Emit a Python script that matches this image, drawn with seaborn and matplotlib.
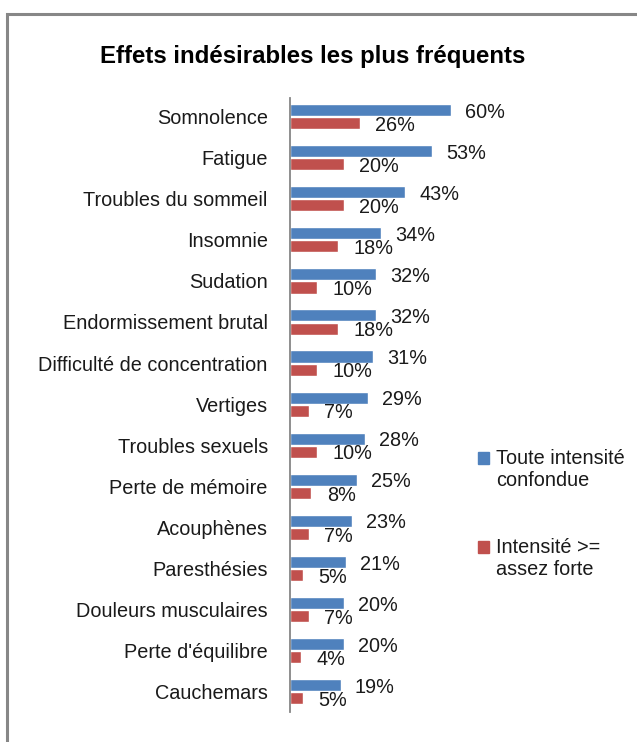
import matplotlib
matplotlib.use("Agg")
import matplotlib.pyplot as plt
import seaborn as sns
import pandas as pd
from matplotlib.patches import Rectangle

categories = ["Somnolence", "Fatigue", "Troubles du sommeil", "Insomnie", "Sudation",
              "Endormissement brutal", "Difficulté de concentration", "Vertiges",
              "Troubles sexuels", "Perte de mémoire", "Acouphènes", "Paresthésies",
              "Douleurs musculaires", "Perte d'équilibre", "Cauchemars"]
toute = [60, 53, 43, 34, 32, 32, 31, 29, 28, 25, 23, 21, 20, 20, 19]
forte = [26, 20, 20, 18, 10, 18, 10, 7, 10, 8, 7, 5, 7, 4, 5]
series = ["Toute intensité\nconfondue", "Intensité >=\nassez forte"]
colors = ["#4F81BD", "#C0504D"]

df = pd.DataFrame({
    "cat": categories * 2,
    "val": toute + forte,
    "serie": [series[0]] * len(categories) + [series[1]] * len(categories),
})

sns.set_style("white")
plt.rcParams["font.family"] = ["Liberation Sans", "DejaVu Sans"]
fs = 14.3

fig = plt.figure(figsize=(6.37, 7.42), dpi=100)
ax = fig.add_axes([290 / 637, 30 / 742, 188 / 637, 614 / 742])

sns.barplot(data=df, y="cat", x="val", hue="serie", order=categories,
            palette=colors, orient="h", width=0.64, gap=0.08, ax=ax,
            legend=False, saturation=1)

ax.set_xlim(0, 70)
ax.set_ylim(14.49, -0.45)
ax.set_xlabel("")
ax.set_ylabel("")
ax.set_xticks([])
for s in ["top", "right", "bottom"]:
    ax.spines[s].set_visible(False)
ax.spines["left"].set_color("#868686")
ax.spines["left"].set_linewidth(1.3)
ax.tick_params(axis="y", length=0, pad=16, labelsize=fs, colors="#1a1a1a")

for cont, offs in zip(ax.containers, [10, 11]):
    for bar in cont:
        w = bar.get_width()
        yc = bar.get_y() + bar.get_height() / 2
        ax.annotate(f"{w:.0f}%", (w, yc), xytext=(offs, -1.5), textcoords="offset points",
                    ha="left", va="center", fontsize=fs, color="#1a1a1a",
                    annotation_clip=False)

handles = [Rectangle((0, 0), 1, 1, color=c) for c in colors]
leg = fig.legend(handles, series, loc="upper left", bbox_to_anchor=(464 / 637, 1 - 435 / 742),
                 frameon=False, fontsize=fs, handlelength=0.55, handleheight=0.55,
                 handletextpad=0.35, labelspacing=2.4, labelcolor="#1a1a1a", borderpad=0.2)
# square next to the first line of each label, like Excel
for h in leg.legend_handles:
    h.set_y(h.get_y() + 0.58 * fs)

fig.text(313 / 637, 1 - 56 / 742, "Effets indésirables les plus fréquents",
         ha="center", va="center", fontsize=17.3, fontweight="bold", color="#000000")

fig.patches.append(Rectangle((7 / 637, -0.1), 1.2, 1 - 14 / 742 + 0.1, transform=fig.transFigure,
                             fill=False, edgecolor="#878787", linewidth=2.2))

fig.savefig("out.png", dpi=100)
